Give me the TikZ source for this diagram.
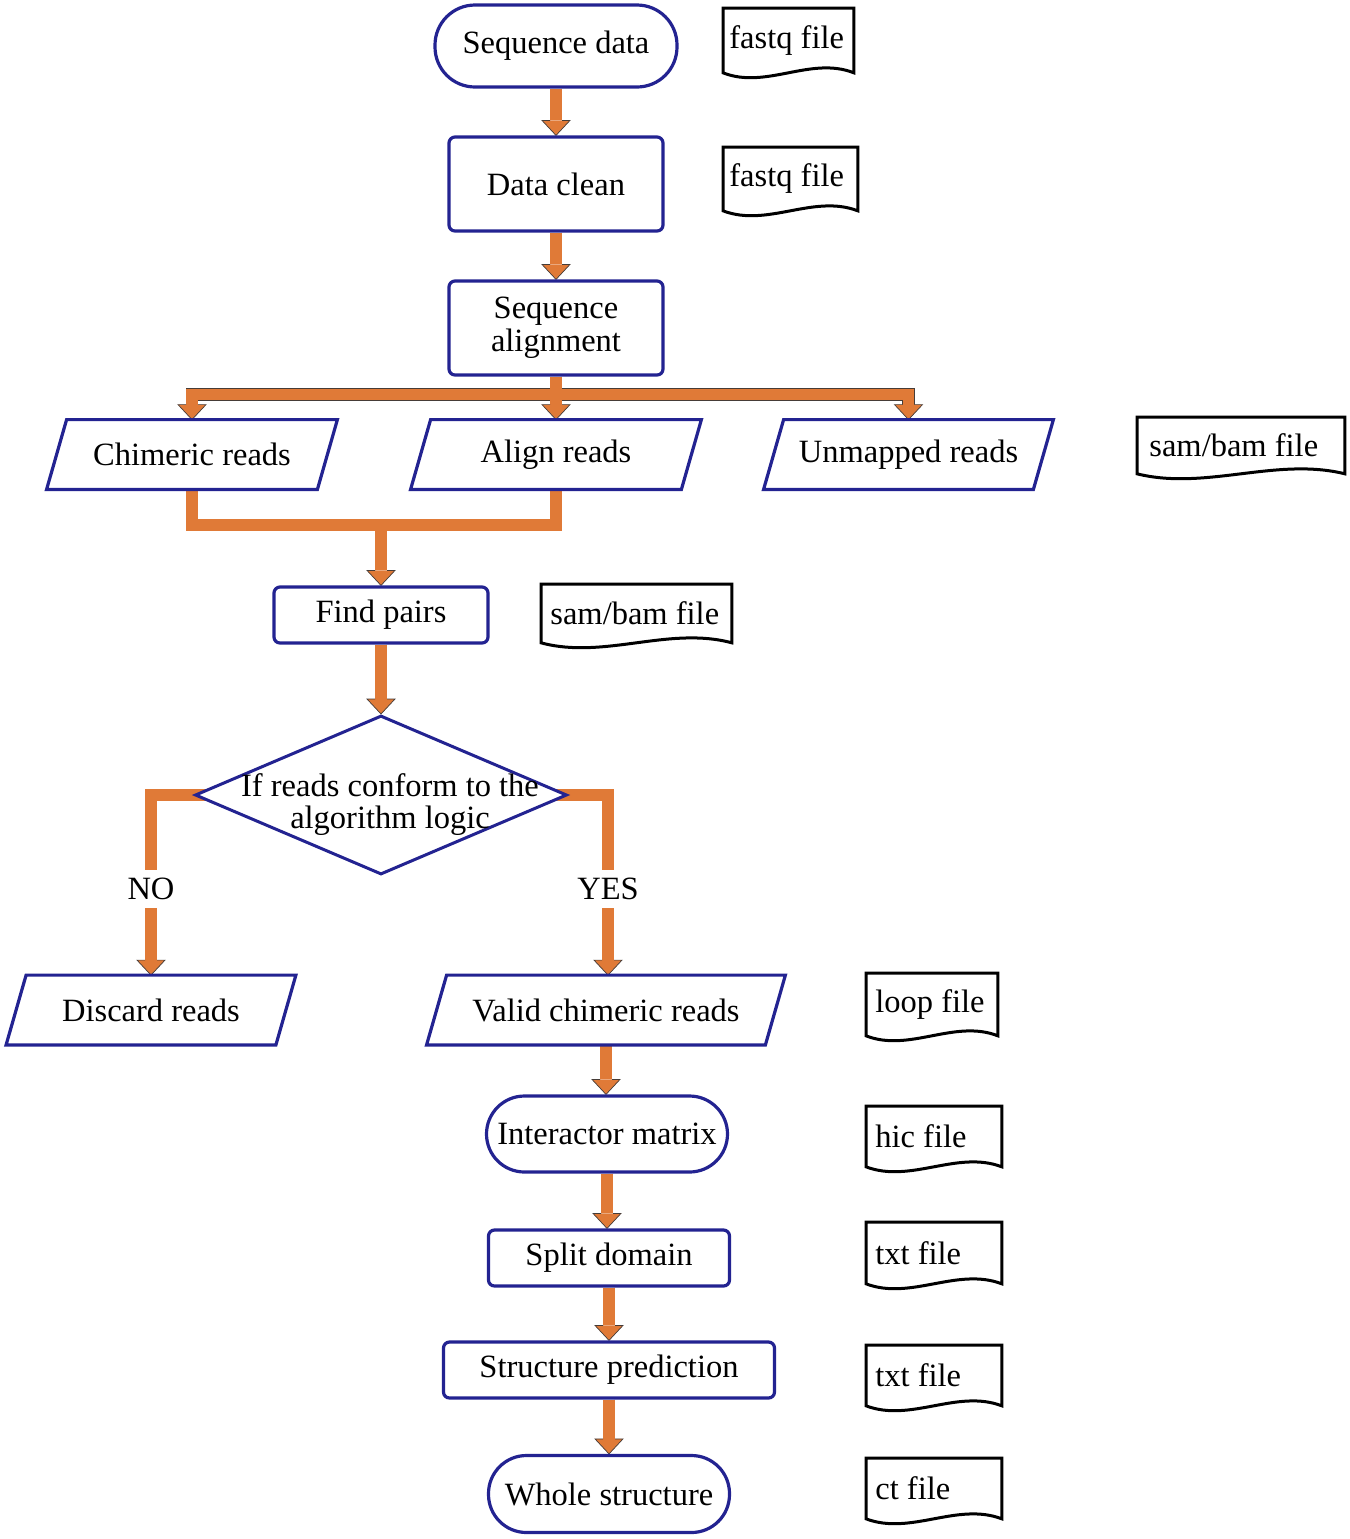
\documentclass[tikz,border=0pt]{standalone}
\usepackage{fontspec}
\setmainfont{Liberation Serif}
\usetikzlibrary{positioning,shapes.geometric,calc,backgrounds}

\definecolor{nodeblue}{RGB}{35,35,145}
\definecolor{pipeorange}{RGB}{224,122,55}
\definecolor{pipeedge}{RGB}{70,60,55}

\tikzset{
  proc/.style={draw=nodeblue, line width=1.6pt, rounded corners=3pt, align=center},
  term/.style={draw=nodeblue, line width=1.6pt, rounded corners=19pt, inner xsep=2pt},
  io/.style={minimum width=#1, minimum height=34.5pt, inner sep=0pt},
  iobox/.style={draw=nodeblue, line width=1.6pt, line join=miter},
  decision/.style={diamond, draw=nodeblue, line width=1.5pt, fill=white, minimum width=186pt, minimum height=79.5pt, inner sep=0pt},
  flag/.style={inner sep=4pt},
  doc/.style={text width=#1, align=flush left, inner xsep=4.5pt, minimum height=30pt, anchor=north west},
  docline/.style={draw=black, line width=1.5pt},
  pipe/.style={draw=pipeedge, line width=0.35pt, double=pipeorange, double distance=5.6pt},
  head/.pic={
    \fill[pipeorange] (-14,-15) -- (0,0) -- (14,-15) -- cycle;
    \draw[pipeedge, line width=0.35pt] (-6,-15) -- (-14,-15) -- (0,0) -- (14,-15) -- (6,-15);
  }
}

% straight flow arrow from one node down to the next
\newcommand{\flowdown}[2]{%
  \draw[pipe] (#1.south) -- ($(#1.south |- #2.north)+(0,-15)$);
  \pic at (#1.south |- #2.north) {head};}

\begin{document}
\begin{tikzpicture}[x=0.5pt,y=-0.5pt,font=\fontsize{16.25}{16.5}\selectfont]

\useasboundingbox (0,0) rectangle (1350,1539);

% main flow
\node[term, minimum width=121pt, minimum height=41pt, rounded corners=20pt] (seq) at (556,46) {Sequence data};
\node[proc, minimum width=107pt, minimum height=47pt] (clean) at (556,184) {Data clean};
\node[proc, minimum width=107pt, minimum height=47pt] (aln) at (556,328) {Sequence\\alignment};

\node[io=135pt] (chim) at (192,454.5) {Chimeric reads};
\node[io=135pt] (alig) at (556,454.5) {Align reads};
\node[io=134.5pt] (unmap) at (908.5,454.5) {Unmapped reads};

\node[proc, minimum width=107pt, minimum height=28pt] (pairs) at (381,615) {Find pairs};

\node[decision] (cond) at (381,795) {};
\node[align=center, font=\fontsize{16.25}{16}\selectfont, inner sep=0pt] (condtext) at (390,805) {If reads conform to the\\algorithm logic};

\node[flag] (no) at (151,889) {NO};
\node[flag] (yes) at (608,889) {YES};

\node[io=134.5pt] (disc) at (151,1010) {Discard reads};
\node[io=169pt] (valid) at (606,1010) {Valid chimeric reads};

\node[term, minimum width=120.5pt, minimum height=38pt] (inter) at (607,1134) {Interactor matrix};
\node[proc, minimum width=120.5pt, minimum height=28pt] (dom) at (609,1258) {Split domain};
\node[proc, minimum width=165.5pt, minimum height=28pt] (pred) at (609,1370) {Structure prediction};
\node[term, minimum width=120.5pt, minimum height=38.5pt] (whole) at (609,1494) {Whole structure};

% parallelogram outlines
\foreach \n in {chim,alig,unmap,disc,valid}
  \draw[iobox] ([xshift=-5pt]\n.south west) -- ([xshift=5pt]\n.north west) -- ([xshift=5pt]\n.north east) -- ([xshift=-5pt]\n.south east) -- cycle;

% file types
\node[doc=59pt, inner xsep=3pt, minimum height=32pt] (fqa) at (723,8) {fastq file};
\node[doc=61pt, inner xsep=3pt, minimum height=31.5pt] (fqb) at (723,147) {fastq file};
\node[doc=91.5pt, inner xsep=6pt, minimum height=28pt] (sba) at (1137,417) {sam/bam file};
\node[doc=86pt, inner xsep=4.5pt, minimum height=29pt] (sbb) at (541,584) {sam/bam file};
\node[doc=56.5pt, minimum height=31pt] (loopf) at (866,973) {loop file};
\node[doc=58.5pt] (hicf) at (866,1106) {hic file};
\node[doc=58.5pt, minimum height=30.5pt] (txta) at (866,1222) {txt file};
\node[doc=58.5pt] (txtb) at (866,1345) {txt file};
\node[doc=58.5pt] (ctf) at (866,1458) {ct file};

\foreach \d in {fqa,fqb,sba,sbb,loopf,hicf,txta,txtb,ctf}
  \draw[docline] (\d.south west) -- (\d.north west) -- (\d.north east) -- (\d.south east)
    .. controls ($(\d.south east)!0.33!(\d.south west)+(0,-17)$) and ($(\d.south east)!0.67!(\d.south west)+(0,17)$) .. (\d.south west) -- cycle;

% arrows
\begin{scope}[on background layer]
\flowdown{seq}{clean}
\flowdown{clean}{aln}
\coordinate (fork) at ($(aln.south)+(0,18)$);
\draw[pipe] ($(chim.north)+(0,-15)$) |- (fork) -| ($(unmap.north)+(0,-15)$) (aln.south) -- ($(alig.north)+(0,-15)$);
\pic at (chim.north) {head};
\pic at (alig.north) {head};
\pic at (unmap.north) {head};
\coordinate (merge) at (381,525);
\draw[pipe] (chim.south) |- (merge) -| (alig.south) (merge) -- ($(pairs.north)+(0,-15)$);
\pic at (pairs.north) {head};
\flowdown{pairs}{cond}
\draw[pipe] ([xshift=8pt]cond.west) -| (no.north);
\draw[pipe] ([xshift=-8pt]cond.east) -| (yes.north);
\flowdown{no}{disc}
\flowdown{yes}{valid}
\flowdown{valid}{inter}
\flowdown{inter}{dom}
\flowdown{dom}{pred}
\flowdown{pred}{whole}
\end{scope}

\end{tikzpicture}
\end{document}
